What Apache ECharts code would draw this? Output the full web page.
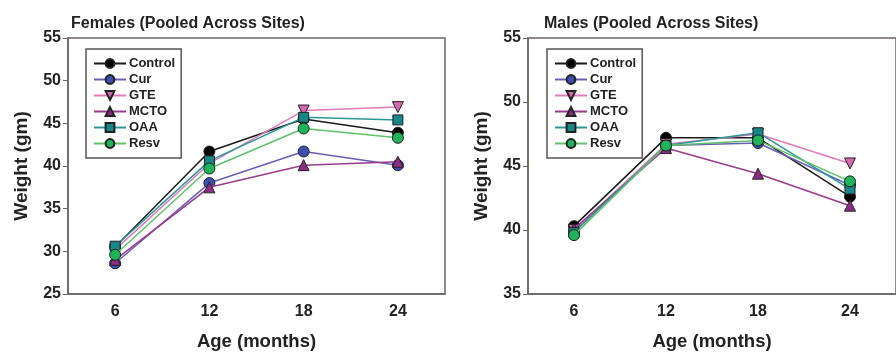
<!DOCTYPE html>
<html>
<head>
<meta charset="utf-8">
<script src="https://cdn.jsdelivr.net/npm/echarts@6/dist/echarts.min.js"></script>
<style>
  html, body { margin: 0; padding: 0; background: #fff; }
  #chart { width: 896px; height: 356px; }
</style>
</head>
<body>
<div id="chart"></div>
<script>
// ages (months)
const ages = ["6", "12", "18", "24"];
const groups = ["Control", "Cur", "GTE", "MCTO", "OAA", "Resv"];

// females, weight (gm)
const femControl = [30.5, 41.7, 45.5, 43.9];
const femCur = [28.6, 38.0, 41.7, 40.1];
const femGTE = [30.2, 40.3, 46.5, 46.9];
const femMCTO = [29.0, 37.5, 40.1, 40.5];
const femOAA = [30.6, 40.6, 45.7, 45.4];
const femResv = [29.6, 39.7, 44.4, 43.3];

// males, weight (gm)
const maleControl = [40.3, 47.2, 47.2, 42.6];
const maleCur = [39.9, 46.6, 46.8, 43.5];
const maleGTE = [40.0, 46.7, 47.5, 45.2];
const maleMCTO = [40.1, 46.4, 44.4, 41.9];
const maleOAA = [39.8, 46.6, 47.6, 43.2];
const maleResv = [39.6, 46.6, 47.0, 43.8];

const femTicks = [25, 55, 5];
const maleTicks = [35, 55, 5];

const styles = {
  Control: { line: "#1a1a1a", fill: "#000000", symbol: "circle", rotate: 0 },
  Cur: { line: "#6a5fb8", fill: "#3a4fb0", symbol: "circle", rotate: 0 },
  GTE: { line: "#e07ab8", fill: "#d468b2", symbol: "triangle", rotate: 180 },
  MCTO: { line: "#9a3a8c", fill: "#8c2c84", symbol: "triangle", rotate: 0 },
  OAA: { line: "#2a9898", fill: "#168689", symbol: "rect", rotate: 0 },
  Resv: { line: "#5fc268", fill: "#1fb45a", symbol: "circle", rotate: 0 },
};

const femData = [femControl, femCur, femGTE, femMCTO, femOAA, femResv];
const maleData = [maleControl, maleCur, maleGTE, maleMCTO, maleOAA, maleResv];

const axisColor = "#6b6461";
const font = "'Liberation Sans', Arial, sans-serif";

function makeSeries(data, idx) {
  return groups.map((name, i) => {
    const s = styles[name];
    return {
      name,
      type: "line",
      xAxisIndex: idx,
      yAxisIndex: idx,
      data: data[i],
      symbol: s.symbol,
      symbolRotate: s.rotate,
      symbolSize: s.symbol === "rect" ? 10 : 11,
      lineStyle: { width: 1.5, color: s.line },
      itemStyle: { color: s.fill, borderColor: "#222", borderWidth: 1 },
      emphasis: { disabled: true },
      z: 2 + i,
    };
  });
}

function makeX(idx) {
  return {
    type: "category",
    gridIndex: idx,
    data: ages,
    boundaryGap: true,
    name: "Age (months)",
    nameLocation: "middle",
    nameGap: 38,
    nameTextStyle: { fontFamily: font, fontSize: 18.5, fontWeight: "bold", color: "#222" },
    axisLine: { lineStyle: { color: axisColor, width: 1.5 } },
    axisTick: { alignWithLabel: true, length: 4, lineStyle: { color: axisColor } },
    axisLabel: { fontFamily: font, fontSize: 16, fontWeight: "bold", color: "#222", margin: 10 },
    splitLine: { show: false },
  };
}

function makeY(idx, ticks) {
  return {
    type: "value",
    gridIndex: idx,
    min: ticks[0],
    max: ticks[1],
    interval: ticks[2],
    name: "Weight (gm)",
    nameLocation: "middle",
    nameGap: 37,
    nameTextStyle: { fontFamily: font, fontSize: 19, fontWeight: "bold", color: "#222" },
    axisLine: { show: true, lineStyle: { color: axisColor, width: 1.5 } },
    axisTick: { show: true, length: 5, lineStyle: { color: axisColor } },
    axisLabel: { fontFamily: font, fontSize: 16, fontWeight: "bold", color: "#222", margin: 7 },
    splitLine: { show: false },
  };
}

function makeLegend(left) {
  return {
    left,
    top: 49,
    orient: "vertical",
    data: groups,
    itemWidth: 32,
    itemHeight: 11,
    itemGap: 3,
    padding: [8, 6, 8, 7],
    borderColor: "#5a5452",
    borderWidth: 1.5,
    backgroundColor: "#fff",
    symbolRotate: "inherit",
    selectedMode: false,
    textStyle: { fontFamily: font, fontSize: 13, fontWeight: "bold", color: "#222", padding: [0, 0, 0, -2] },
  };
}

const chart = echarts.init(document.getElementById("chart"));
chart.setOption({
  backgroundColor: "#fff",
  animation: false,
  title: [
    { text: "Females (Pooled Across Sites)", left: 66, top: 11,
      textStyle: { fontFamily: font, fontSize: 16, fontWeight: "bold", color: "#222" } },
    { text: "Males (Pooled Across Sites)", left: 539, top: 11,
      textStyle: { fontFamily: font, fontSize: 16, fontWeight: "bold", color: "#222" } },
  ],
  legend: [makeLegend(86), makeLegend(547)],
  grid: [
    { left: 68, top: 38, width: 377, height: 262, show: true, borderColor: axisColor, borderWidth: 1.5, backgroundColor: "#fff" },
    { left: 528, top: 38, width: 374, height: 262, show: true, borderColor: axisColor, borderWidth: 1.5, backgroundColor: "#fff" },
  ],
  xAxis: [makeX(0), makeX(1)],
  yAxis: [makeY(0, femTicks), makeY(1, maleTicks)],
  series: [...makeSeries(femData, 0), ...makeSeries(maleData, 1)],
});
</script>
</body>
</html>
